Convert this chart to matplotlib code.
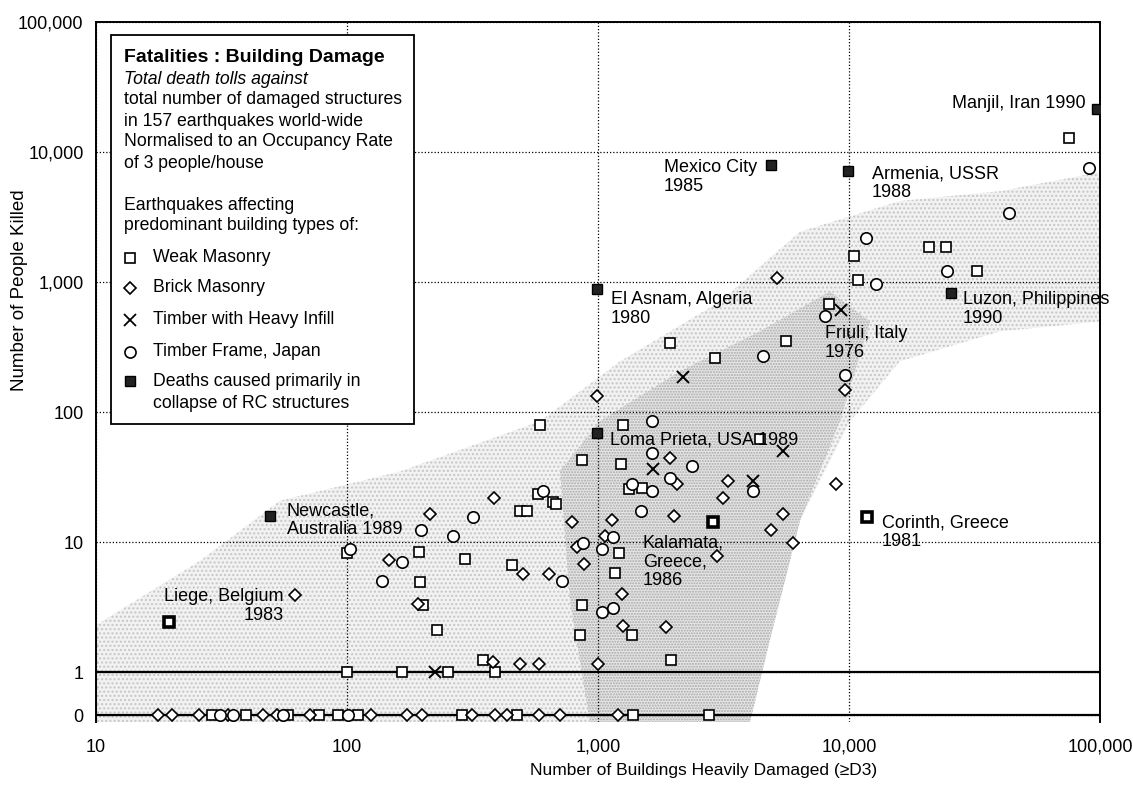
import numpy as np
import matplotlib
matplotlib.use("Agg")
import matplotlib.pyplot as plt
from matplotlib.patches import Rectangle
from matplotlib.lines import Line2D


# ==========================================
# Data (0 deaths are drawn on the "0" row)
# ==========================================

weak_x = [100, 100, 166, 252, 348, 389, 1954, 587, 1262, 861, 1231, 575, 660, 680,
          489, 520, 1208, 1169, 294, 194, 195, 456, 861, 201, 229, 848, 1371,
          1333, 1493, 4418, 1936, 2924, 5586, 8300, 10470, 20840, 24270, 32460,
          10890, 75500,
          29, 39.6, 58.2, 77.3, 92.1, 111, 287, 475, 1378, 2767]
weak_y = [8.3, 1.0, 1.0, 1.0, 1.24, 1.0, 1.24, 79, 80, 42.8, 39.7, 23.4, 20.5, 19.8,
          17.4, 17.4, 8.2, 5.8, 7.4, 8.4, 4.9, 6.7, 3.3, 3.3, 2.1, 1.92, 1.92,
          25.6, 26.3, 62, 340, 261, 354, 680, 1590, 1850, 1850, 1225,
          1040, 12800,
          0, 0, 0, 0, 0, 0, 0, 0, 0, 0]

brick_x = [988, 9640, 5160, 386, 215, 790, 1135, 1066, 822, 883, 1250, 147, 504,
           638, 192, 1262, 1866, 382, 489, 582, 1000, 1936, 2060, 3282, 3155,
           8870, 2014, 5470, 4873, 5994, 2966, 62.1,
           17.6, 20.1, 25.7, 33.6, 46.3, 52.6, 71.2, 125, 173, 199, 315, 389,
           434, 582, 706, 1202]
brick_y = [133, 149, 1070, 22, 16.6, 14.4, 14.7, 11.2, 9.1, 6.8, 4.0, 7.3, 5.7,
           5.7, 3.35, 2.25, 2.22, 1.2, 1.15, 1.15, 1.15, 44.7, 28.2, 29.3, 21.8,
           27.9, 16.0, 16.4, 12.3, 9.9, 7.8, 3.89,
           0, 0, 0, 0, 0, 0, 0, 0, 0, 0, 0, 0,
           0, 0, 0, 0]

infill_x = [224, 2188, 1660, 5470, 4134, 9300]
infill_y = [1.0, 185, 36.8, 50, 29.6, 615]

japan_x = [103, 165, 138, 198, 264, 317, 606, 869, 1035, 1143, 720, 1035, 1144,
           1637, 1637, 2376, 1936, 1362, 1637, 4134, 1483, 4557, 9640, 8017,
           11690, 12810, 24640, 43500, 90000,
           31.2, 35.1, 55.5, 101]
japan_y = [8.9, 7.0, 5.0, 12.5, 11.1, 15.7, 24.8, 9.9, 8.9, 11.0, 5.0, 2.9, 3.1,
           86, 48.8, 38.6, 31.4, 27.9, 24.8, 24.8, 17.4, 268, 194, 544,
           2170, 968, 1225, 3410, 7500,
           0, 0, 0, 0]

rc_x = [49.4, 990, 990, 4900, 9900, 25470, 97000]
rc_y = [16.0, 69, 880, 7900, 7100, 820, 21500]

# squares drawn with a heavy outline
bold_x = [19.6, 2879, 11750]
bold_y = [2.43, 14.2, 15.5]

# stippled envelope of the data cloud
shade_outer_x = [10, 26, 54, 163, 587, 1225, 3060, 6380, 15960, 40000, 100000,
                 100000, 40000, 15960, 10090, 6380, 5310, 4420, 3680, 10]
shade_outer_y = [2.3, 7.2, 20.8, 35, 85, 246, 708, 2440, 4200, 5000, 7000,
                 497, 418, 246, 85, 14.6, 3.6, 1.0, 0.41, 0.41]
shade_core_x = [706, 1018, 2120, 4420, 8390, 12130, 9200, 6380, 4840, 4030, 929, 773]
shade_core_y = [35.3, 85.3, 206, 418, 847, 497, 85, 14.6, 1.76, 0.41, 0.41, 3.56]

x_ticks = [10, 100, 1000, 10000, 100000]
x_tick_labels = ["10", "100", "1,000", "10,000", "100,000"]
y_ticks = [1, 10, 100, 1000, 10000, 100000]
y_tick_labels = ["1", "10", "100", "1,000", "10,000", "100,000"]

ZERO_Y = 0.467


def yv(vals):
    v = np.array(vals, dtype=float)
    return np.where(v == 0, ZERO_Y, v)


# ==========================================
# Figure
# ==========================================

plt.rcParams["font.family"] = ["Liberation Sans", "DejaVu Sans"]
plt.rcParams["font.size"] = 13
plt.rcParams["hatch.linewidth"] = 1.0

W, H = 1133, 785
fig = plt.figure(figsize=(W / 100, H / 100), dpi=100)
ax = fig.add_axes([96 / W, 1 - 722 / H, 1004 / W, 700 / H])


def px(x, y):
    return x / W, 1 - y / H


ax.set_xscale("log")
ax.set_yscale("log")
ax.set_xlim(10, 100000)
ax.set_ylim(0.414, 100000)

ax.fill(shade_outer_x, shade_outer_y, facecolor="#f2f2f2", edgecolor="#c6c6c6",
        hatch="....", lw=0, zorder=0.5)
ax.fill(shade_core_x, shade_core_y, facecolor="#e6e6e6", edgecolor="#a8a8a8",
        hatch="......", lw=0, zorder=0.6)

ax.grid(True, which="major", color="black", linestyle=(0, (1, 1.6)), lw=0.9, zorder=1)
ax.minorticks_off()
ax.axhline(1, color="black", lw=1.6, zorder=2)
ax.axhline(ZERO_Y, color="black", lw=1.6, zorder=2)

mk = dict(linestyle="none", mfc="white", mec="black", mew=1.2, zorder=3)

ax.plot(weak_x, yv(weak_y), marker="s", ms=7.5, **mk)
ax.plot(brick_x, yv(brick_y), marker="D", ms=6.2, **mk)
ax.plot(japan_x, yv(japan_y), marker="o", ms=8.2, **mk)
ax.plot(infill_x, yv(infill_y), marker="x", ms=9, linestyle="none",
        color="black", mew=1.4, zorder=3)
ax.plot(rc_x, rc_y, marker="s", ms=6.8, linestyle="none",
        mfc="#222222", mec="black", zorder=3)
ax.plot(bold_x, bold_y, marker="s", ms=6.5, linestyle="none",
        mfc="white", mec="black", mew=2.6, zorder=3)

ax.set_xticks(x_ticks)
ax.set_xticklabels(x_tick_labels)
ax.set_yticks([ZERO_Y] + y_ticks)
ax.set_yticklabels(["0"] + y_tick_labels)
ax.tick_params(axis="x", length=0, pad=12, labelsize=13)
ax.tick_params(axis="y", length=0, pad=9, labelsize=13)

for s in ["left", "right", "top"]:
    ax.spines[s].set_linewidth(1.4)
ax.spines["bottom"].set_visible(False)

ax.set_xlabel("Number of Buildings Heavily Damaged (\u2265D3)", fontsize=12.5)
ax.xaxis.set_label_coords(0.605, -0.058)
ax.set_ylabel("Number of People Killed", fontsize=13.5)
ax.yaxis.set_label_coords(-0.068, 0.617)


# ==========================================
# Annotations
# ==========================================

notes = [
    ("Manjil, Iran 1990", 1086, 103, "right"),
    ("Mexico City\n1985", 664, 177, "left"),
    ("Armenia, USSR\n1988", 872, 183, "left"),
    ("El Asnam, Algeria\n1980", 611, 309, "left"),
    ("Luzon, Philippines\n1990", 963, 309, "left"),
    ("Friuli, Italy\n1976", 825, 343, "left"),
    ("Loma Prieta, USA 1989", 610, 440, "left"),
    ("Kalamata,\nGreece,\n1986", 643, 562, "left"),
    ("Corinth, Greece\n1981", 882, 532, "left"),
    ("Newcastle,\nAustralia 1989", 287, 520, "left"),
    ("Liege, Belgium\n1983", 284, 606, "right"),
]
for txt, x, y, ha in notes:
    fx, fy = px(x, y)
    fig.text(fx, fy, txt, ha=ha, va="center", multialignment=ha,
             fontsize=13, linespacing=1.15, zorder=4)


# ==========================================
# Legend box
# ==========================================

bx0, by0 = px(111, 424)
fig.add_artist(Rectangle((bx0, by0), 303 / W, 389 / H, transform=fig.transFigure,
                         facecolor="white", edgecolor="black", lw=1.3, zorder=5))

fx, fy = px(124, 57)
fig.text(fx, fy, "Fatalities : Building Damage", fontsize=14, fontweight="bold",
         va="center", zorder=6)

header = [
    ("Total death tolls against", 80, "italic"),
    ("total number of damaged structures", 100, "normal"),
    ("in 157 earthquakes world-wide", 121, "normal"),
    ("Normalised to an Occupancy Rate", 142, "normal"),
    ("of 3 people/house", 163, "normal"),
    ("Earthquakes affecting", 205, "normal"),
    ("predominant building types of:", 226, "normal"),
]
for txt, y, style in header:
    fx, fy = px(124, y)
    fig.text(fx, fy, txt, fontsize=12.7, style=style, va="center", zorder=6)

entries = [
    ("Weak Masonry", 258, dict(marker="s", ms=7, mfc="white", mec="black", mew=1.2)),
    ("Brick Masonry", 288, dict(marker="D", ms=5.8, mfc="white", mec="black", mew=1.2)),
    ("Timber with Heavy Infill", 320, dict(marker="x", ms=9, color="black", mew=1.3)),
    ("Timber Frame, Japan", 352, dict(marker="o", ms=8, mfc="white", mec="black", mew=1.2)),
    ("Deaths caused primarily in", 381,
     dict(marker="s", ms=6.5, mfc="#222222", mec="black")),
]
for txt, y, style in entries:
    mx, my = px(130, y)
    fig.add_artist(Line2D([mx], [my], transform=fig.transFigure, linestyle="none",
                          zorder=6, **style))
    tx, ty = px(153, y)
    fig.text(tx, ty, txt, fontsize=12.7, va="center", zorder=6)

tx, ty = px(153, 403)
fig.text(tx, ty, "collapse of RC structures", fontsize=12.7, va="center", zorder=6)

fig.savefig("out.png", dpi=100)
